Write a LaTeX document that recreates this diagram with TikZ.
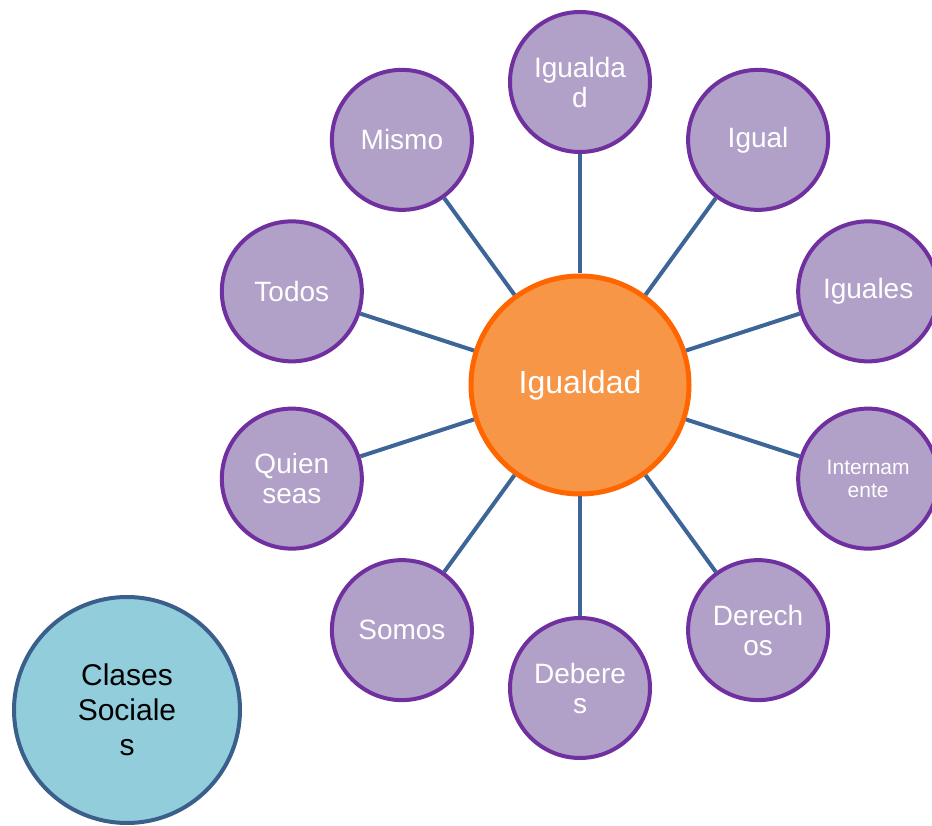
\documentclass[tikz,border=0pt]{standalone}
\usepackage{fontspec}
\setmainfont{Liberation Sans}
\usetikzlibrary{positioning}

\definecolor{lila}{HTML}{B1A0C7}
\definecolor{lilaborde}{HTML}{7030A0}
\definecolor{naranja}{HTML}{F79646}
\definecolor{naranjaborde}{HTML}{FF6600}
\definecolor{celeste}{HTML}{92CDDC}
\definecolor{azulborde}{HTML}{3A5F8A}
\definecolor{enlace}{HTML}{3D6598}

\tikzset{
    satelite/.style={circle, draw=lilaborde, fill=lila, line width=4pt, minimum size=140pt,
        inner sep=0pt, align=center, text=white, font=\fontsize{28}{30}\selectfont},
    chico/.style={font=\fontsize{21}{23}\selectfont},
    centro/.style={circle, draw=naranjaborde, fill=naranja, line width=5pt, minimum size=218pt,
        inner sep=0pt, text=white, font=\fontsize{32}{36}\selectfont},
    aparte/.style={circle, draw=azulborde, fill=celeste, line width=4pt, minimum size=226pt,
        inner sep=0pt, align=center, text=black, font=\fontsize{30}{35}\selectfont},
    enlace/.style={draw=enlace, line width=4pt}
}

\begin{document}
\begin{tikzpicture}[x=1pt, y=1pt]
    \useasboundingbox (0,0) rectangle (932,825);
    \node[centro] (ctr) at (580,440) {Igualdad};
    % satelites alrededor del centro
    \foreach \nombre/\ang/\estilo/\texto in {
        igualdad/90//{Igualda\\d}, igual/54//Igual, iguales/18//Iguales,
        interna/-18/chico/{Internam\\ente},
        derechos/-54//{Derech\\os}, deberes/-90//{Debere\\s},
        somos/-126//Somos, quien/-162//{Quien\\seas},
        todos/162//Todos, mismo/126//Mismo} {
        \node[satelite, \estilo] (\nombre) at ([shift={(\ang:303)}]ctr) {\texto};
    }
    \foreach \nombre in {igualdad, igual, iguales, interna, derechos,
        deberes, somos, quien, todos, mismo}
        \draw[enlace] (ctr) -- (\nombre);
    \node[aparte] (clases) at (127,115) {Clases\\Sociale\\s};
\end{tikzpicture}
\end{document}
